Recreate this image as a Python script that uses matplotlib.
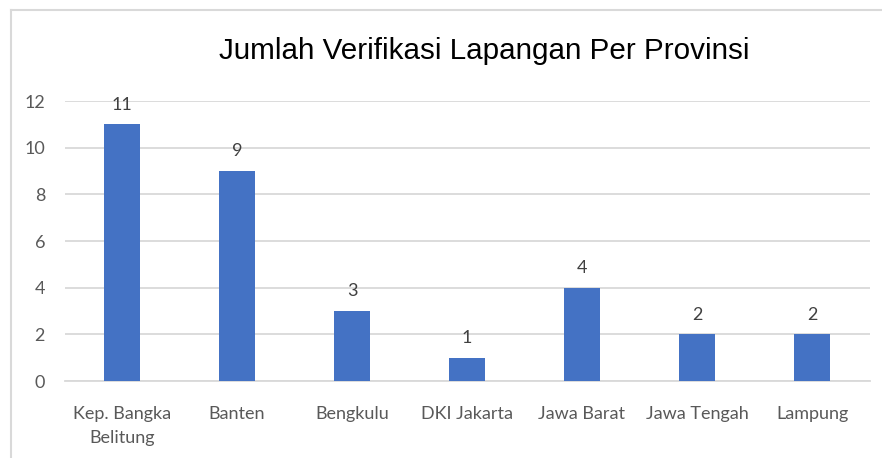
import matplotlib.pyplot as plt
from matplotlib.lines import Line2D

provinsi = ['Kep. Bangka\nBelitung', 'Banten', 'Bengkulu', 'DKI Jakarta',
            'Jawa Barat', 'Jawa Tengah', 'Lampung']
jumlah = [11, 9, 3, 1, 4, 2, 2]
yticks = [0, 2, 4, 6, 8, 10, 12]

plt.rcParams['font.family'] = ['Lato', 'DejaVu Sans']

fig = plt.figure(figsize=(8.82, 4.58), dpi=100)
ax = fig.add_axes([64.5 / 882, 1 - 381 / 458, 805 / 882, 280 / 458])

x = range(len(provinsi))
ax.bar(x, jumlah, width=0.31, color='#4472C4', zorder=3)
for i, v in zip(x, jumlah):
    ax.text(i, v + 0.5, str(v), ha='center', va='bottom',
            fontsize=13, color='#404040')

ax.set_xlim(-0.5, len(provinsi) - 0.5)
ax.set_ylim(0, 12)
ax.set_yticks(yticks)
ax.set_xticks(list(x))
ax.set_xticklabels(provinsi, fontsize=13, color='#595959', linespacing=1.6)
ax.tick_params(axis='y', labelsize=13, labelcolor='#595959', length=0, pad=14)
ax.tick_params(axis='x', length=0, pad=18)
ax.grid(axis='y', color='#d9d9d9', linewidth=1.3, zorder=0)
for s in ['top', 'right', 'left']:
    ax.spines[s].set_visible(False)
ax.spines['bottom'].set_color('#d9d9d9')
ax.spines['bottom'].set_linewidth(1.3)

fig.text(484 / 882, 1 - 51 / 458, 'Jumlah Verifikasi Lapangan Per Provinsi',
         ha='center', va='center', fontsize=21.3, family='Liberation Sans',
         color='black')

# chart border (only top and left edges visible in the crop)
fig.add_artist(Line2D([11 / 882, 11 / 882], [0, 1 - 10 / 458],
                      transform=fig.transFigure, color='#d9d9d9', linewidth=1.5))
fig.add_artist(Line2D([11 / 882, 1], [1 - 10 / 458, 1 - 10 / 458],
                      transform=fig.transFigure, color='#d9d9d9', linewidth=1.5))

fig.savefig('out.png', dpi=100)
